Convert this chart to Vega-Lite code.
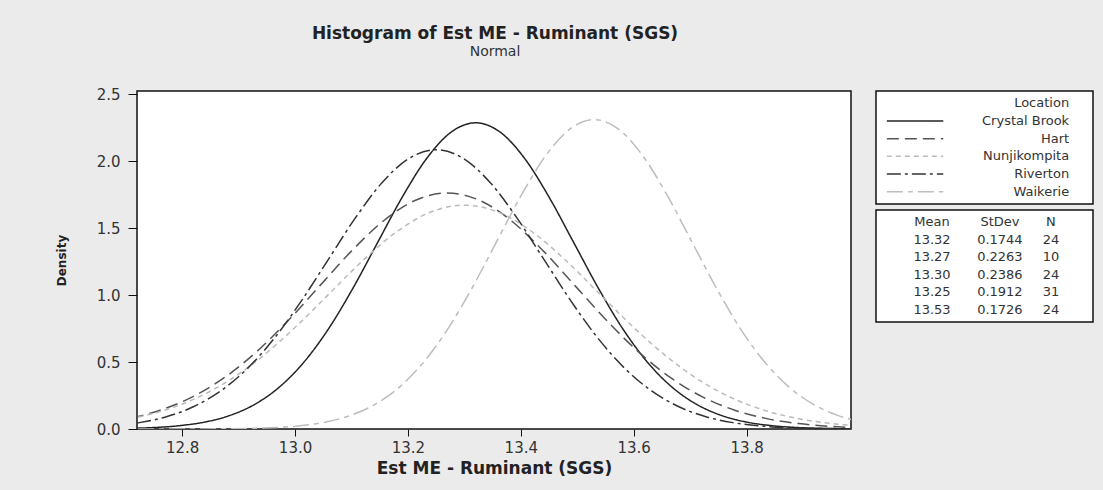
{
  "$schema": "https://vega.github.io/schema/vega-lite/v6.json",
  "background": "#ebebeb",
  "padding": {"left": 54, "top": 24, "right": 12, "bottom": 20},
  "title": {
    "text": "Histogram of Est ME - Ruminant (SGS)",
    "subtitle": "Normal",
    "anchor": "start",
    "frame": "group",
    "align": "center",
    "dx": 358,
    "font": "DejaVu Sans",
    "fontSize": 17,
    "fontWeight": "bold",
    "color": "#222",
    "subtitleFont": "DejaVu Sans",
    "subtitleFontSize": 14,
    "subtitleColor": "#333",
    "subtitlePadding": 2,
    "offset": 27
  },
  "datasets": {
    "curves": [
      {"loc": "Crystal Brook", "x": 12.6224, "d": 0.0008},
      {"loc": "Crystal Brook", "x": 12.666, "d": 0.0020},
      {"loc": "Crystal Brook", "x": 12.7096, "d": 0.0050},
      {"loc": "Crystal Brook", "x": 12.7532, "d": 0.0116},
      {"loc": "Crystal Brook", "x": 12.7968, "d": 0.0254},
      {"loc": "Crystal Brook", "x": 12.8404, "d": 0.0521},
      {"loc": "Crystal Brook", "x": 12.884, "d": 0.1005},
      {"loc": "Crystal Brook", "x": 12.9276, "d": 0.1820},
      {"loc": "Crystal Brook", "x": 12.9712, "d": 0.3096},
      {"loc": "Crystal Brook", "x": 13.0148, "d": 0.4947},
      {"loc": "Crystal Brook", "x": 13.0584, "d": 0.7426},
      {"loc": "Crystal Brook", "x": 13.102, "d": 1.0473},
      {"loc": "Crystal Brook", "x": 13.1456, "d": 1.3874},
      {"loc": "Crystal Brook", "x": 13.1892, "d": 1.7267},
      {"loc": "Crystal Brook", "x": 13.2328, "d": 2.0187},
      {"loc": "Crystal Brook", "x": 13.2764, "d": 2.2171},
      {"loc": "Crystal Brook", "x": 13.32, "d": 2.2875},
      {"loc": "Crystal Brook", "x": 13.3636, "d": 2.2171},
      {"loc": "Crystal Brook", "x": 13.4072, "d": 2.0187},
      {"loc": "Crystal Brook", "x": 13.4508, "d": 1.7267},
      {"loc": "Crystal Brook", "x": 13.4944, "d": 1.3874},
      {"loc": "Crystal Brook", "x": 13.538, "d": 1.0473},
      {"loc": "Crystal Brook", "x": 13.5816, "d": 0.7426},
      {"loc": "Crystal Brook", "x": 13.6252, "d": 0.4947},
      {"loc": "Crystal Brook", "x": 13.6688, "d": 0.3096},
      {"loc": "Crystal Brook", "x": 13.7124, "d": 0.1820},
      {"loc": "Crystal Brook", "x": 13.756, "d": 0.1005},
      {"loc": "Crystal Brook", "x": 13.7996, "d": 0.0521},
      {"loc": "Crystal Brook", "x": 13.8432, "d": 0.0254},
      {"loc": "Crystal Brook", "x": 13.8868, "d": 0.0116},
      {"loc": "Crystal Brook", "x": 13.9304, "d": 0.0050},
      {"loc": "Crystal Brook", "x": 13.974, "d": 0.0020},
      {"loc": "Crystal Brook", "x": 14.0176, "d": 0.0008},

      {"loc": "Hart", "x": 12.6477, "d": 0.0402},
      {"loc": "Hart", "x": 12.7043, "d": 0.0775},
      {"loc": "Hart", "x": 12.7608, "d": 0.1403},
      {"loc": "Hart", "x": 12.8174, "d": 0.2386},
      {"loc": "Hart", "x": 12.874, "d": 0.3813},
      {"loc": "Hart", "x": 12.9306, "d": 0.5723},
      {"loc": "Hart", "x": 12.9871, "d": 0.8071},
      {"loc": "Hart", "x": 13.0437, "d": 1.0692},
      {"loc": "Hart", "x": 13.1003, "d": 1.3307},
      {"loc": "Hart", "x": 13.1569, "d": 1.5557},
      {"loc": "Hart", "x": 13.2134, "d": 1.7087},
      {"loc": "Hart", "x": 13.27, "d": 1.7629},
      {"loc": "Hart", "x": 13.3266, "d": 1.7087},
      {"loc": "Hart", "x": 13.3832, "d": 1.5557},
      {"loc": "Hart", "x": 13.4397, "d": 1.3307},
      {"loc": "Hart", "x": 13.4963, "d": 1.0692},
      {"loc": "Hart", "x": 13.5529, "d": 0.8071},
      {"loc": "Hart", "x": 13.6095, "d": 0.5723},
      {"loc": "Hart", "x": 13.666, "d": 0.3813},
      {"loc": "Hart", "x": 13.7226, "d": 0.2386},
      {"loc": "Hart", "x": 13.7792, "d": 0.1403},
      {"loc": "Hart", "x": 13.8358, "d": 0.0775},
      {"loc": "Hart", "x": 13.8923, "d": 0.0402},
      {"loc": "Hart", "x": 13.9489, "d": 0.0196},
      {"loc": "Hart", "x": 14.0055, "d": 0.0090},

      {"loc": "Nunjikompita", "x": 12.6439, "d": 0.0381},
      {"loc": "Nunjikompita", "x": 12.7035, "d": 0.0735},
      {"loc": "Nunjikompita", "x": 12.7632, "d": 0.1330},
      {"loc": "Nunjikompita", "x": 12.8228, "d": 0.2263},
      {"loc": "Nunjikompita", "x": 12.8825, "d": 0.3616},
      {"loc": "Nunjikompita", "x": 12.9421, "d": 0.5428},
      {"loc": "Nunjikompita", "x": 13.0018, "d": 0.7655},
      {"loc": "Nunjikompita", "x": 13.0614, "d": 1.0141},
      {"loc": "Nunjikompita", "x": 13.1211, "d": 1.2621},
      {"loc": "Nunjikompita", "x": 13.1807, "d": 1.4755},
      {"loc": "Nunjikompita", "x": 13.2404, "d": 1.6206},
      {"loc": "Nunjikompita", "x": 13.30, "d": 1.6720},
      {"loc": "Nunjikompita", "x": 13.3597, "d": 1.6206},
      {"loc": "Nunjikompita", "x": 13.4193, "d": 1.4755},
      {"loc": "Nunjikompita", "x": 13.479, "d": 1.2621},
      {"loc": "Nunjikompita", "x": 13.5386, "d": 1.0141},
      {"loc": "Nunjikompita", "x": 13.5983, "d": 0.7655},
      {"loc": "Nunjikompita", "x": 13.6579, "d": 0.5428},
      {"loc": "Nunjikompita", "x": 13.7176, "d": 0.3616},
      {"loc": "Nunjikompita", "x": 13.7772, "d": 0.2263},
      {"loc": "Nunjikompita", "x": 13.8369, "d": 0.1330},
      {"loc": "Nunjikompita", "x": 13.8965, "d": 0.0735},
      {"loc": "Nunjikompita", "x": 13.9562, "d": 0.0381},
      {"loc": "Nunjikompita", "x": 14.0158, "d": 0.0186},

      {"loc": "Riverton", "x": 12.6764, "d": 0.0232},
      {"loc": "Riverton", "x": 12.7242, "d": 0.0476},
      {"loc": "Riverton", "x": 12.772, "d": 0.0917},
      {"loc": "Riverton", "x": 12.8198, "d": 0.1660},
      {"loc": "Riverton", "x": 12.8676, "d": 0.2824},
      {"loc": "Riverton", "x": 12.9154, "d": 0.4512},
      {"loc": "Riverton", "x": 12.9632, "d": 0.6774},
      {"loc": "Riverton", "x": 13.011, "d": 0.9553},
      {"loc": "Riverton", "x": 13.0588, "d": 1.2655},
      {"loc": "Riverton", "x": 13.1066, "d": 1.5750},
      {"loc": "Riverton", "x": 13.1544, "d": 1.8413},
      {"loc": "Riverton", "x": 13.2022, "d": 2.0223},
      {"loc": "Riverton", "x": 13.25, "d": 2.0865},
      {"loc": "Riverton", "x": 13.2978, "d": 2.0223},
      {"loc": "Riverton", "x": 13.3456, "d": 1.8413},
      {"loc": "Riverton", "x": 13.3934, "d": 1.5750},
      {"loc": "Riverton", "x": 13.4412, "d": 1.2655},
      {"loc": "Riverton", "x": 13.489, "d": 0.9553},
      {"loc": "Riverton", "x": 13.5368, "d": 0.6774},
      {"loc": "Riverton", "x": 13.5846, "d": 0.4512},
      {"loc": "Riverton", "x": 13.6324, "d": 0.2824},
      {"loc": "Riverton", "x": 13.6802, "d": 0.1660},
      {"loc": "Riverton", "x": 13.728, "d": 0.0917},
      {"loc": "Riverton", "x": 13.7758, "d": 0.0476},
      {"loc": "Riverton", "x": 13.8236, "d": 0.0232},
      {"loc": "Riverton", "x": 13.8714, "d": 0.0106},
      {"loc": "Riverton", "x": 13.9192, "d": 0.0046},
      {"loc": "Riverton", "x": 13.967, "d": 0.0018},
      {"loc": "Riverton", "x": 14.0148, "d": 0.0007},

      {"loc": "Waikerie", "x": 12.667, "d": 0.0000},
      {"loc": "Waikerie", "x": 12.7533, "d": 0.0001},
      {"loc": "Waikerie", "x": 12.8396, "d": 0.0008},
      {"loc": "Waikerie", "x": 12.8828, "d": 0.0020},
      {"loc": "Waikerie", "x": 12.9259, "d": 0.0051},
      {"loc": "Waikerie", "x": 12.9691, "d": 0.0118},
      {"loc": "Waikerie", "x": 13.0122, "d": 0.0257},
      {"loc": "Waikerie", "x": 13.0554, "d": 0.0527},
      {"loc": "Waikerie", "x": 13.0985, "d": 0.1016},
      {"loc": "Waikerie", "x": 13.1417, "d": 0.1839},
      {"loc": "Waikerie", "x": 13.1848, "d": 0.3128},
      {"loc": "Waikerie", "x": 13.228, "d": 0.4999},
      {"loc": "Waikerie", "x": 13.2711, "d": 0.7504},
      {"loc": "Waikerie", "x": 13.3143, "d": 1.0582},
      {"loc": "Waikerie", "x": 13.3574, "d": 1.4019},
      {"loc": "Waikerie", "x": 13.4006, "d": 1.7447},
      {"loc": "Waikerie", "x": 13.4437, "d": 2.0398},
      {"loc": "Waikerie", "x": 13.4869, "d": 2.2403},
      {"loc": "Waikerie", "x": 13.53, "d": 2.3114},
      {"loc": "Waikerie", "x": 13.5732, "d": 2.2403},
      {"loc": "Waikerie", "x": 13.6163, "d": 2.0398},
      {"loc": "Waikerie", "x": 13.6595, "d": 1.7447},
      {"loc": "Waikerie", "x": 13.7026, "d": 1.4019},
      {"loc": "Waikerie", "x": 13.7458, "d": 1.0582},
      {"loc": "Waikerie", "x": 13.7889, "d": 0.7504},
      {"loc": "Waikerie", "x": 13.8321, "d": 0.4999},
      {"loc": "Waikerie", "x": 13.8752, "d": 0.3128},
      {"loc": "Waikerie", "x": 13.9184, "d": 0.1839},
      {"loc": "Waikerie", "x": 13.9615, "d": 0.1016},
      {"loc": "Waikerie", "x": 14.0047, "d": 0.0527}
    ],
    "legend": [
      {"loc": "Crystal Brook"},
      {"loc": "Hart"},
      {"loc": "Nunjikompita"},
      {"loc": "Riverton"},
      {"loc": "Waikerie"}
    ],
    "stats": [
      {"loc": "Header", "mean": "Mean", "sd": "StDev", "n": "N"},
      {"loc": "Crystal Brook", "mean": "13.32", "sd": "0.1744", "n": "24"},
      {"loc": "Hart", "mean": "13.27", "sd": "0.2263", "n": "10"},
      {"loc": "Nunjikompita", "mean": "13.30", "sd": "0.2386", "n": "24"},
      {"loc": "Riverton", "mean": "13.25", "sd": "0.1912", "n": "31"},
      {"loc": "Waikerie", "mean": "13.53", "sd": "0.1726", "n": "24"}
    ]
  },
  "resolve": {"scale": {"x": "independent", "y": "independent"}},
  "spacing": 23,
  "hconcat": [
    {
      "width": 714,
      "height": 338,
      "data": {"name": "curves"},
      "mark": {"type": "line", "interpolate": "monotone", "clip": true, "strokeWidth": 1.5},
      "encoding": {
        "x": {
          "field": "x",
          "type": "quantitative",
          "scale": {"domain": [12.72, 13.985], "nice": false, "zero": false},
          "axis": {
            "values": [12.8, 13.0, 13.2, 13.4, 13.6, 13.8],
            "format": ".1f",
            "title": "Est ME - Ruminant (SGS)",
            "tickSize": 7,
            "labelPadding": 4,
            "titlePadding": 5
          }
        },
        "y": {
          "field": "d",
          "type": "quantitative",
          "scale": {"domain": [0, 2.525], "nice": false},
          "axis": {
            "values": [0, 0.5, 1.0, 1.5, 2.0, 2.5],
            "format": ".1f",
            "title": "Density",
            "titleFontSize": 12,
            "tickSize": 9,
            "labelPadding": 8,
            "titlePadding": 28
          }
        },
        "color": {
          "field": "loc",
          "type": "nominal",
          "scale": {
            "domain": ["Crystal Brook", "Hart", "Nunjikompita", "Riverton", "Waikerie"],
            "range": ["#222222", "#555555", "#bbbbbb", "#333333", "#bdbdbd"]
          },
          "legend": null
        },
        "strokeDash": {
          "field": "loc",
          "type": "nominal",
          "scale": {
            "domain": ["Crystal Brook", "Hart", "Nunjikompita", "Riverton", "Waikerie"],
            "range": [[1, 0], [12, 6], [5, 4], [14, 4, 3, 4], [16, 5, 5, 5]]
          },
          "legend": null
        }
      }
    },
    {
      "spacing": 4,
      "resolve": {"scale": {"x": "independent", "y": "independent"}},
      "vconcat": [
        {
          "width": 217,
          "height": 113,
          "layer": [
            {
              "data": {"name": "legend"},
              "mark": {"type": "rule", "strokeWidth": 1.5},
              "encoding": {
                "x": {"datum": 0.05, "type": "quantitative", "scale": {"domain": [0, 1]}, "axis": null},
                "x2": {"datum": 0.31},
                "y": {
                  "field": "loc",
                  "type": "nominal",
                  "scale": {
                    "type": "point",
                    "padding": 0.7,
                    "domain": ["Location", "Crystal Brook", "Hart", "Nunjikompita", "Riverton", "Waikerie"]
                  },
                  "axis": null
                },
                "color": {"field": "loc", "type": "nominal", "legend": null},
                "strokeDash": {"field": "loc", "type": "nominal", "legend": null}
              }
            },
            {
              "data": {"name": "legend"},
              "mark": {"type": "text", "align": "right", "baseline": "middle", "font": "DejaVu Sans", "fontSize": 13, "color": "#333"},
              "encoding": {
                "x": {"datum": 0.89, "type": "quantitative"},
                "y": {"field": "loc", "type": "nominal"},
                "text": {"field": "loc"}
              }
            },
            {
              "data": {"values": [{"t": "Location"}]},
              "mark": {"type": "text", "align": "right", "baseline": "middle", "font": "DejaVu Sans", "fontSize": 13, "color": "#333"},
              "encoding": {
                "x": {"datum": 0.89, "type": "quantitative"},
                "y": {"datum": "Location", "type": "nominal"},
                "text": {"field": "t"}
              }
            }
          ]
        },
        {
          "width": 217,
          "height": 112,
          "data": {"name": "stats"},
          "encoding": {
            "y": {
              "field": "loc",
              "type": "nominal",
              "scale": {
                "type": "point",
                "padding": 0.7,
                "domain": ["Header", "Crystal Brook", "Hart", "Nunjikompita", "Riverton", "Waikerie"]
              },
              "axis": null
            }
          },
          "layer": [
            {
              "mark": {"type": "text", "align": "center", "baseline": "middle", "font": "DejaVu Sans", "fontSize": 13, "color": "#333"},
              "encoding": {
                "x": {"datum": 0.258, "type": "quantitative", "scale": {"domain": [0, 1]}, "axis": null},
                "text": {"field": "mean"}
              }
            },
            {
              "mark": {"type": "text", "align": "center", "baseline": "middle", "font": "DejaVu Sans", "fontSize": 13, "color": "#333"},
              "encoding": {
                "x": {"datum": 0.571, "type": "quantitative"},
                "text": {"field": "sd"}
              }
            },
            {
              "mark": {"type": "text", "align": "center", "baseline": "middle", "font": "DejaVu Sans", "fontSize": 13, "color": "#333"},
              "encoding": {
                "x": {"datum": 0.806, "type": "quantitative"},
                "text": {"field": "n"}
              }
            }
          ]
        }
      ]
    }
  ],
  "config": {
    "font": "DejaVu Sans",
    "view": {"fill": "white", "stroke": "#111111", "strokeWidth": 1.5},
    "axis": {
      "domain": false,
      "grid": false,
      "tickColor": "#111111",
      "tickWidth": 1,
      "labelFont": "DejaVu Sans",
      "labelFontSize": 15,
      "labelColor": "#333333",
      "titleFont": "DejaVu Sans",
      "titleFontSize": 17,
      "titleFontWeight": "bold",
      "titleColor": "#222222"
    }
  }
}
